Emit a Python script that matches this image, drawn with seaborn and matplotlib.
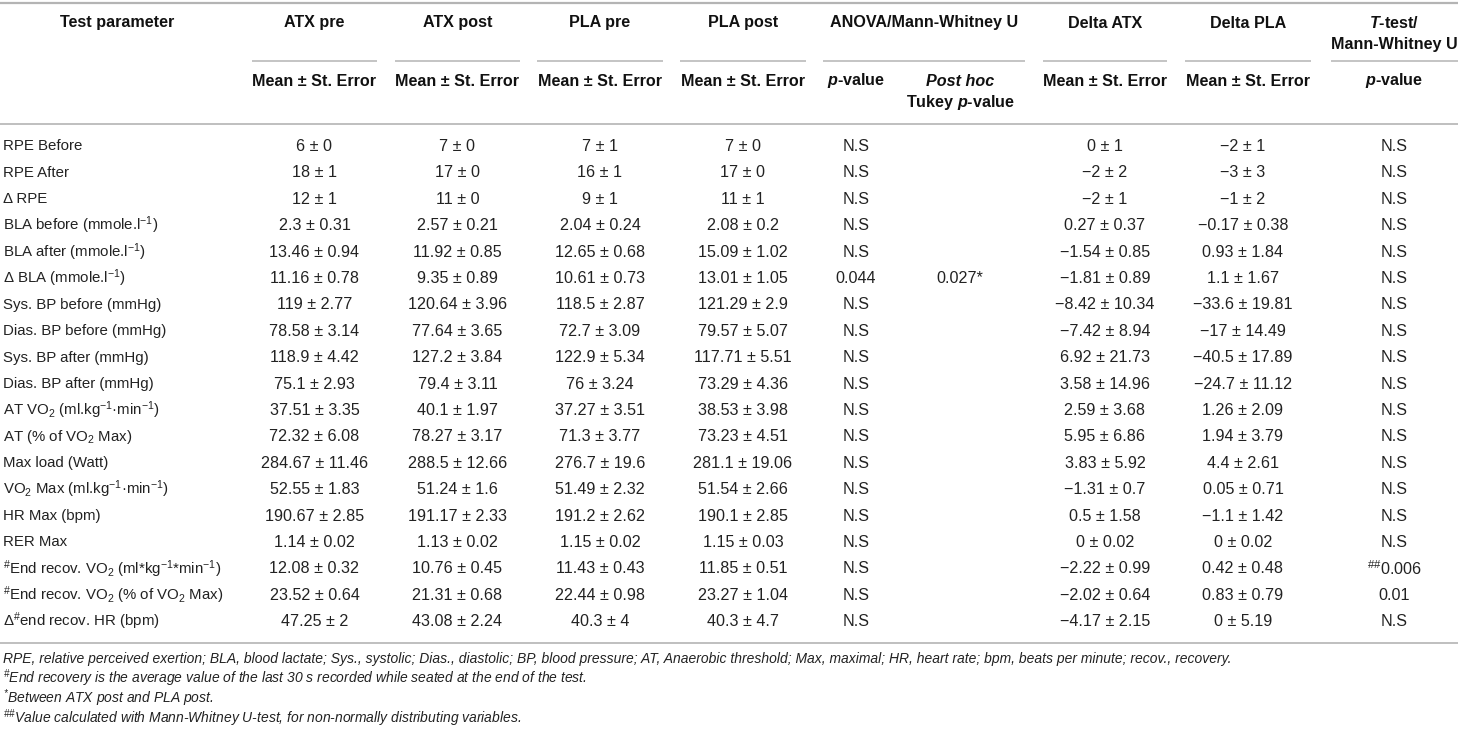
import matplotlib
matplotlib.use("Agg")
import matplotlib.pyplot as plt
import seaborn as sns

# ---------------- data ----------------
params = [
    "RPE Before", "RPE After", "Δ RPE",
    r"BLA before (mmole.l$^{-1}$)", r"BLA after (mmole.l$^{-1}$)", r"Δ BLA (mmole.l$^{-1}$)",
    "Sys. BP before (mmHg)", "Dias. BP before (mmHg)", "Sys. BP after (mmHg)", "Dias. BP after (mmHg)",
    r"AT VO$_2$ (ml.kg$^{-1}$·min$^{-1}$)", r"AT (% of VO$_2$ Max)", "Max load (Watt)",
    r"VO$_2$ Max (ml.kg$^{-1}$·min$^{-1}$)", "HR Max (bpm)", "RER Max",
    r"$^{\#}$End recov. VO$_2$ (ml*kg$^{-1}$*min$^{-1}$)", r"$^{\#}$End recov. VO$_2$ (% of VO$_2$ Max)",
    r"Δ$^{\#}$end recov. HR (bpm)",
]
atx_pre_mean = [6, 18, 12, 2.3, 13.46, 11.16, 119, 78.58, 118.9, 75.1, 37.51, 72.32, 284.67, 52.55, 190.67, 1.14, 12.08, 23.52, 47.25]
atx_pre_se = [0, 1, 1, 0.31, 0.94, 0.78, 2.77, 3.14, 4.42, 2.93, 3.35, 6.08, 11.46, 1.83, 2.85, 0.02, 0.32, 0.64, 2]
atx_post_mean = [7, 17, 11, 2.57, 11.92, 9.35, 120.64, 77.64, 127.2, 79.4, 40.1, 78.27, 288.5, 51.24, 191.17, 1.13, 10.76, 21.31, 43.08]
atx_post_se = [0, 0, 0, 0.21, 0.85, 0.89, 3.96, 3.65, 3.84, 3.11, 1.97, 3.17, 12.66, 1.6, 2.33, 0.02, 0.45, 0.68, 2.24]
pla_pre_mean = [7, 16, 9, 2.04, 12.65, 10.61, 118.5, 72.7, 122.9, 76, 37.27, 71.3, 276.7, 51.49, 191.2, 1.15, 11.43, 22.44, 40.3]
pla_pre_se = [1, 1, 1, 0.24, 0.68, 0.73, 2.87, 3.09, 5.34, 3.24, 3.51, 3.77, 19.6, 2.32, 2.62, 0.02, 0.43, 0.98, 4]
pla_post_mean = [7, 17, 11, 2.08, 15.09, 13.01, 121.29, 79.57, 117.71, 73.29, 38.53, 73.23, 281.1, 51.54, 190.1, 1.15, 11.85, 23.27, 40.3]
pla_post_se = [0, 0, 1, 0.2, 1.02, 1.05, 2.9, 5.07, 5.51, 4.36, 3.98, 4.51, 19.06, 2.66, 2.85, 0.03, 0.51, 1.04, 4.7]
anova_p = ["N.S"] * 5 + ["0.044"] + ["N.S"] * 13
posthoc_p = [""] * 5 + ["0.027*"] + [""] * 13
delta_atx_mean = [0, -2, -2, 0.27, -1.54, -1.81, -8.42, -7.42, 6.92, 3.58, 2.59, 5.95, 3.83, -1.31, 0.5, 0, -2.22, -2.02, -4.17]
delta_atx_se = [1, 2, 1, 0.37, 0.85, 0.89, 10.34, 8.94, 21.73, 14.96, 3.68, 6.86, 5.92, 0.7, 1.58, 0.02, 0.99, 0.64, 2.15]
delta_pla_mean = [-2, -3, -1, -0.17, 0.93, 1.1, -33.6, -17, -40.5, -24.7, 1.26, 1.94, 4.4, 0.05, -1.1, 0, 0.42, 0.83, 0]
delta_pla_se = [1, 3, 2, 0.38, 1.84, 1.67, 19.81, 14.49, 17.89, 11.12, 2.09, 3.79, 2.61, 0.71, 1.42, 0.02, 0.48, 0.79, 5.19]
ttest_p = ["N.S"] * 16 + [r"$^{\#\#}$0.006", "0.01", "N.S"]

footnotes = [
    "RPE, relative perceived exertion; BLA, blood lactate; Sys., systolic; Dias., diastolic; BP, blood pressure; "
    "AT, Anaerobic threshold; Max, maximal; HR, heart rate; bpm, beats per minute; recov., recovery.",
    r"$^{\#}$End recovery is the average value of the last 30 s recorded while seated at the end of the test.",
    r"$^{*}$Between ATX post and PLA post.",
    r"$^{\#\#}$Value calculated with Mann-Whitney U-test, for non-normally distributing variables.",
]


def fmt(m, s):
    return f"{m:g} ± {s:g}".replace("-", "−")


# ---------------- style ----------------
sns.set_theme(style="white")
plt.rcParams["font.family"] = ["Liberation Sans", "DejaVu Sans"]
plt.rcParams["mathtext.fontset"] = "custom"
plt.rcParams["mathtext.rm"] = "Liberation Sans"
plt.rcParams["mathtext.it"] = "Liberation Sans:italic"
plt.rcParams["mathtext.bf"] = "Liberation Sans:bold"
plt.rcParams["mathtext.bfit"] = "Liberation Sans:italic:bold"
plt.rcParams["mathtext.default"] = "regular"

fig = plt.figure(figsize=(14.58, 7.30), dpi=100)
ax = fig.add_axes([0, 0, 1, 1])
ax.set_xlim(0, 1458)
ax.set_ylim(730, 0)
ax.axis("off")

LINE = "#b4b4b4"
TXT = "#222222"
HDR = "#111111"
FS = 10.8     # row labels
VFS = 11.6    # values
HFS = 11.6    # headers

# column spans (sub-underlines)
spans = [(252, 377), (395, 520), (537, 663), (680, 806), (823, 1025), (1043, 1167), (1185, 1311), (1331, 1458)]
centers = [(a + b) / 2 for a, b in spans]
p_x, ph_x = 856, 960

# rules
ax.plot([0, 1458], [3, 3], color=LINE, lw=1.6, solid_capstyle="butt")
for a, b in spans:
    ax.plot([a, b], [61, 61], color=LINE, lw=1.1, solid_capstyle="butt")
ax.plot([0, 1458], [124, 124], color=LINE, lw=1.2, solid_capstyle="butt")
ax.plot([0, 1458], [643, 643], color=LINE, lw=1.2, solid_capstyle="butt")

# header row 1
h1 = ["ATX pre", "ATX post", "PLA pre", "PLA post", "ANOVA/Mann-Whitney U", "Delta ATX", "Delta PLA"]
ax.text(117, 23, "Test parameter", ha="center", va="center", fontsize=HFS, fontweight="bold", color=HDR)
for x, t in zip(centers[:7], h1):
    ax.text(x, 23, t, ha="center", va="center", fontsize=HFS, fontweight="bold", color=HDR)
ax.text(centers[7], 23, r"$\mathbfit{T}$-test/", ha="center", va="center", fontsize=HFS, fontweight="bold", color=HDR)
ax.text(centers[7], 44, "Mann-Whitney U", ha="center", va="center", fontsize=HFS, fontweight="bold", color=HDR)

# header row 2
for i in [0, 1, 2, 3, 5, 6]:
    ax.text(centers[i], 81, "Mean ± St. Error", ha="center", va="center", fontsize=HFS, fontweight="bold", color=HDR)
ax.text(p_x, 81, r"$\mathbfit{p}$-value", ha="center", va="center", fontsize=HFS, fontweight="bold", color=HDR)
ax.text(ph_x, 81, "Post hoc", ha="center", va="center", fontsize=HFS, fontweight="bold", fontstyle="italic", color=HDR)
ax.text(ph_x, 102, r"Tukey $\mathbfit{p}$-value", ha="center", va="center", fontsize=HFS, fontweight="bold", color=HDR)
ax.text(centers[7], 81, r"$\mathbfit{p}$-value", ha="center", va="center", fontsize=HFS, fontweight="bold", color=HDR)

# body
y0, dy = 146.5, 26.4
cols = [
    (centers[0], [fmt(m, s) for m, s in zip(atx_pre_mean, atx_pre_se)]),
    (centers[1], [fmt(m, s) for m, s in zip(atx_post_mean, atx_post_se)]),
    (centers[2], [fmt(m, s) for m, s in zip(pla_pre_mean, pla_pre_se)]),
    (centers[3], [fmt(m, s) for m, s in zip(pla_post_mean, pla_post_se)]),
    (p_x, anova_p),
    (ph_x, posthoc_p),
    (centers[5], [fmt(m, s) for m, s in zip(delta_atx_mean, delta_atx_se)]),
    (centers[6] - 5, [fmt(m, s) for m, s in zip(delta_pla_mean, delta_pla_se)]),
    (centers[7], ttest_p),
]
for i, p in enumerate(params):
    y = y0 + i * dy
    ax.text(3, y, p, ha="left", va="center", fontsize=FS, color=TXT)
    for x, vals in cols:
        if vals[i]:
            ax.text(x, y, vals[i], ha="center", va="center", fontsize=VFS, color=TXT)

# footnotes
for k, t in enumerate(footnotes):
    ax.text(3, 659 + k * 19.6, t, ha="left", va="center", fontsize=10.0, fontstyle="italic", color=TXT)

fig.savefig("out.png", dpi=100)
